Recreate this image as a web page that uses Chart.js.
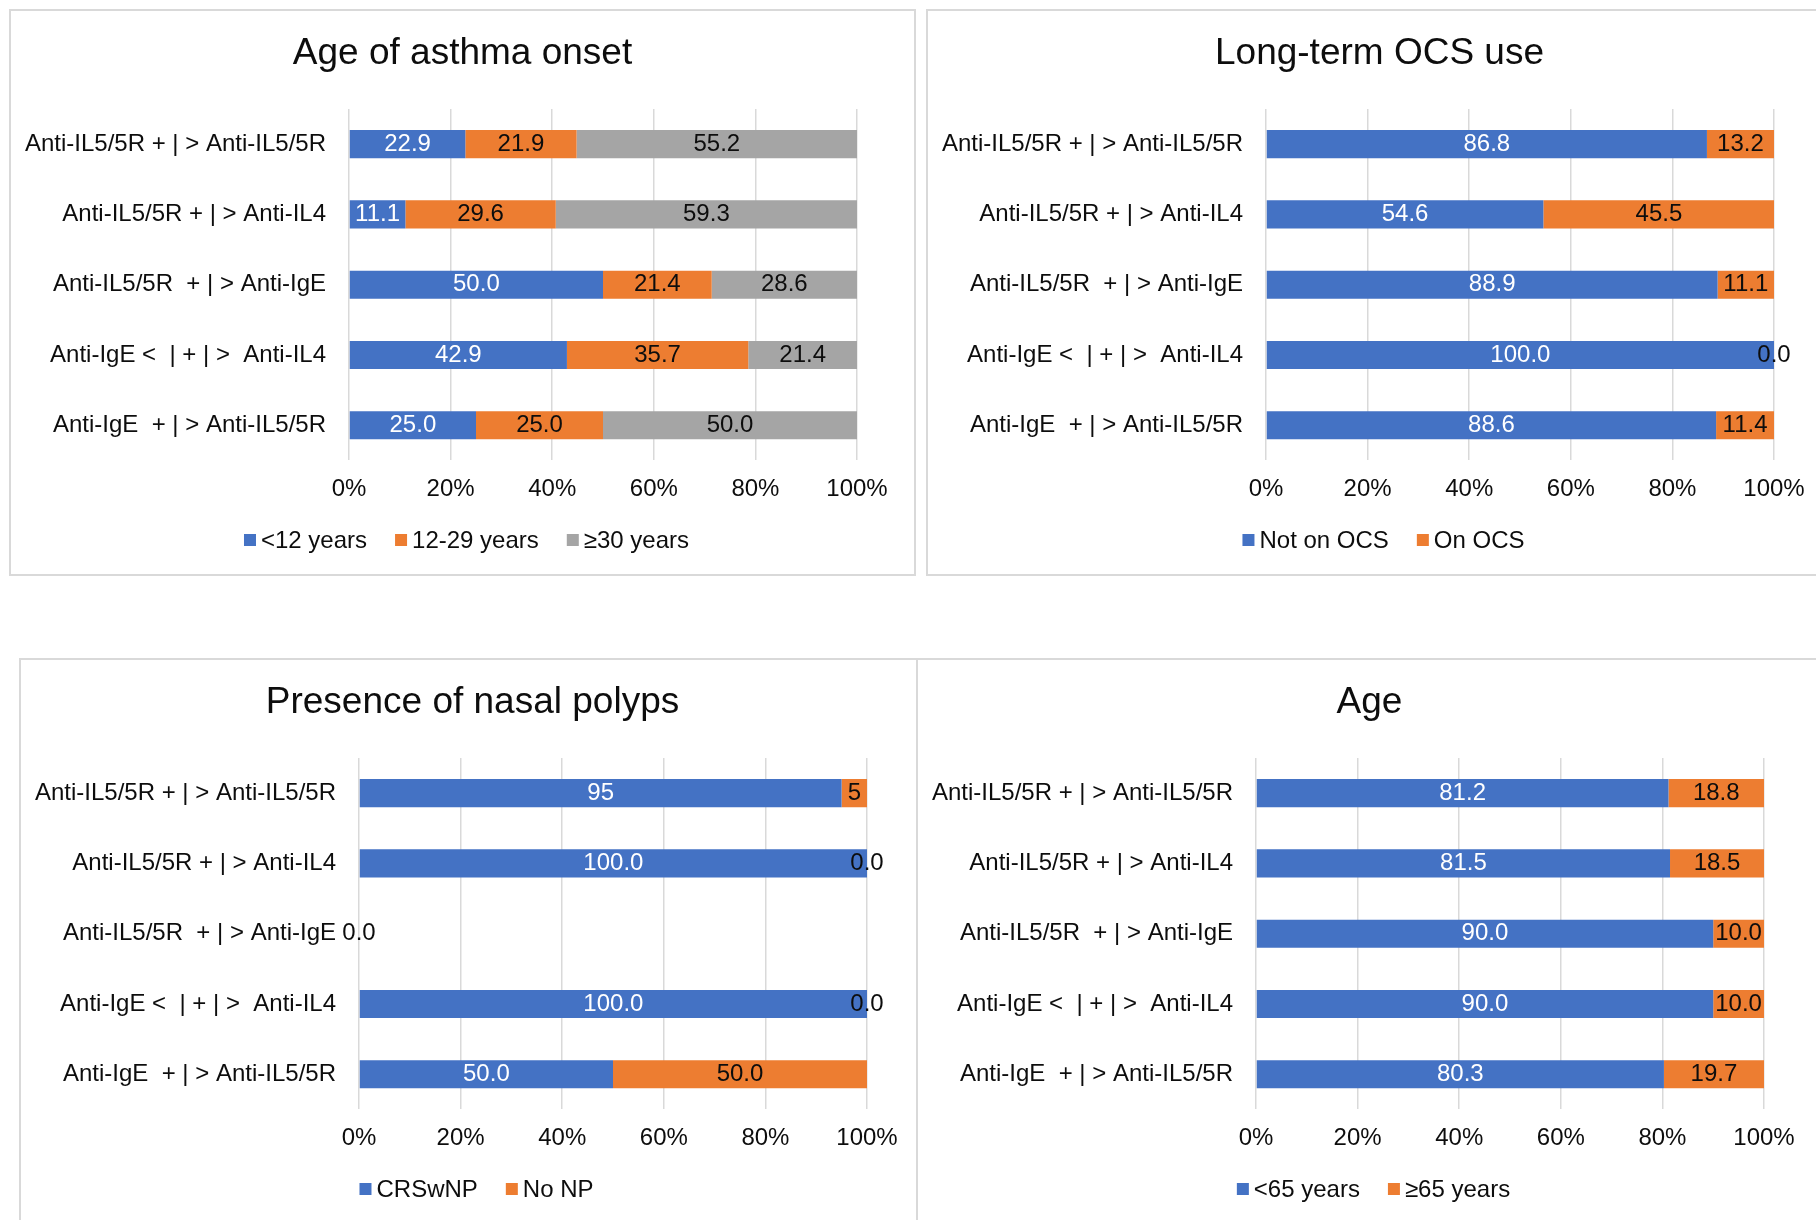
<!DOCTYPE html>
<html>
<head>
<meta charset="utf-8">
<title>Biologic switching patterns</title>
<script src="https://cdn.jsdelivr.net/npm/chart.js@4.4.0/dist/chart.umd.min.js"></script>
<style>
  html, body { margin: 0; padding: 0; background: #fff; overflow: hidden; width: 1816px; height: 1220px; }
  .panel { position: absolute; box-sizing: border-box; border: 2px solid #d9d9d9; background: #fff; width: 907px; height: 567px; }
  .panel canvas { position: absolute; left: 0; top: 0; }
</style>
</head>
<body>
<div class="panel" style="left:9px; top:9px;"><canvas id="onset" width="903" height="563"></canvas></div>
<div class="panel" style="left:926px; top:9px;"><canvas id="ocs" width="903" height="563"></canvas></div>
<div class="panel" style="left:19px; top:658px;"><canvas id="polyps" width="903" height="563"></canvas></div>
<div class="panel" style="left:916px; top:658px;"><canvas id="age" width="903" height="563"></canvas></div>

<script>
// Switch groups (same order in every panel, top to bottom)
const switchGroups = [
  'Anti-IL5/5R + | > Anti-IL5/5R',
  'Anti-IL5/5R + | > Anti-IL4',
  'Anti-IL5/5R  + | > Anti-IgE',
  'Anti-IgE <  | + | >  Anti-IL4',
  'Anti-IgE  + | > Anti-IL5/5R'
];

// Percent axis ticks
const percentTicks = [0, 20, 40, 60, 80, 100];

// Age of asthma onset (%)
const onsetUnder12 = [22.9, 11.1, 50.0, 42.9, 25.0];
const onset12to29  = [21.9, 29.6, 21.4, 35.7, 25.0];
const onset30plus  = [55.2, 59.3, 28.6, 21.4, 50.0];

// Long-term OCS use (%)
const notOnOcs = [86.8, 54.6, 88.9, 100.0, 88.6];
const onOcs    = [13.2, 45.5, 11.1, 0.0, 11.4];

// Presence of nasal polyps (%)
const withNP   = [95, 100.0, 0.0, 100.0, 50.0];
const noNP     = [5, 0.0, 0.0, 0.0, 50.0];
const npDigits = [0, 1, 1, 1, 1];

// Age (%)
const ageUnder65 = [81.2, 81.5, 90.0, 90.0, 80.3];
const age65plus  = [18.8, 18.5, 10.0, 10.0, 19.7];

const BLUE = '#4472C4', ORANGE = '#ED7D31', GRAY = '#A5A5A5';
const TEXT = '#0d0d0d', GRID = '#d9d9d9';
const FAMILY = '"Liberation Sans", Arial, Helvetica, sans-serif';

Chart.defaults.font.family = FAMILY;
Chart.defaults.color = TEXT;

// Value text centred inside each stacked segment
const barValueLabels = {
  id: 'barValueLabels',
  afterDatasetsDraw(chart) {
    const ctx = chart.ctx;
    ctx.save();
    ctx.font = '24px ' + FAMILY;
    ctx.textAlign = 'center';
    ctx.textBaseline = 'middle';
    chart.data.datasets.forEach((ds, i) => {
      const meta = chart.getDatasetMeta(i);
      meta.data.forEach((bar, j) => {
        const digits = ds.digits ? ds.digits[j] : 1;
        ctx.fillStyle = ds.valueColor;
        ctx.fillText(Number(ds.data[j]).toFixed(digits), (bar.x + bar.base) / 2, bar.y);
      });
    });
    ctx.restore();
  }
};

// Compact legend row under the axis
const bottomLegend = {
  id: 'bottomLegend',
  afterDraw(chart, args, opts) {
    const ctx = chart.ctx;
    ctx.save();
    ctx.font = '24px ' + FAMILY;
    ctx.textAlign = 'left';
    ctx.textBaseline = 'middle';
    const box = 12, gapText = 5, gapItem = 28;
    const items = chart.data.datasets.map(d => ({
      text: d.label, color: d.backgroundColor, w: ctx.measureText(d.label).width
    }));
    const total = items.reduce((s, it) => s + box + gapText + it.w, 0) + gapItem * (items.length - 1);
    let x = (chart.width - total) / 2 + (opts.shift || 0);
    const y = opts.y;
    items.forEach(it => {
      ctx.fillStyle = it.color;
      ctx.fillRect(x, y - box / 2, box, box);
      x += box + gapText;
      ctx.fillStyle = TEXT;
      ctx.fillText(it.text, x, y + 1);
      x += it.w + gapItem;
    });
    ctx.restore();
  }
};

function stackedPercentChart(id, title, series) {
  return new Chart(document.getElementById(id), {
    type: 'bar',
    data: {
      labels: switchGroups,
      datasets: series.map(s => ({
        label: s.label,
        data: s.data,
        digits: s.digits,
        backgroundColor: s.color,
        valueColor: s.valueColor,
        borderWidth: 0,
        categoryPercentage: 1,
        barPercentage: 0.4
      }))
    },
    options: {
      indexAxis: 'y',
      responsive: false,
      animation: false,
      devicePixelRatio: 1,
      layout: { padding: { left: 0, right: 0, top: 0, bottom: 55.6 } },
      scales: {
        x: {
          stacked: true,
          min: percentTicks[0],
          max: percentTicks[percentTicks.length - 1],
          afterBuildTicks(scale) { scale.ticks = percentTicks.map(v => ({ value: v })); },
          ticks: {
            callback: v => v + '%',
            padding: 14.6,
            font: { size: 24 },
            color: TEXT,
            maxRotation: 0,
            autoSkip: false
          },
          grid: { color: GRID, lineWidth: 1.5, drawTicks: false },
          border: { display: false }
        },
        y: {
          stacked: true,
          ticks: { padding: 23, font: { size: 24 }, color: TEXT, autoSkip: false },
          grid: { display: false, drawTicks: false },
          border: { display: false },
          afterFit(scale) { scale.width = 338; }
        },
        // empty right-hand margin column so the plot sits left of centre
        yMargin: {
          type: 'category',
          axis: 'y',
          position: 'right',
          ticks: { display: false },
          grid: { display: false, drawTicks: false },
          border: { display: false },
          afterFit(scale) { scale.width = 57; }
        }
      },
      plugins: {
        legend: { display: false },
        tooltip: { enabled: false },
        title: {
          display: true,
          text: title,
          color: TEXT,
          font: { size: 37, weight: 'normal' },
          padding: { top: 21, bottom: 32.6 }
        },
        bottomLegend: { y: 529, shift: 4 }
      }
    },
    plugins: [barValueLabels, bottomLegend]
  });
}

stackedPercentChart('onset', 'Age of asthma onset', [
  { label: '<12 years',   data: onsetUnder12, color: BLUE,   valueColor: '#ffffff' },
  { label: '12-29 years', data: onset12to29,  color: ORANGE, valueColor: TEXT },
  { label: '\u226530 years', data: onset30plus, color: GRAY, valueColor: TEXT }
]);

stackedPercentChart('ocs', 'Long-term OCS use', [
  { label: 'Not on OCS', data: notOnOcs, color: BLUE,   valueColor: '#ffffff' },
  { label: 'On OCS',     data: onOcs,    color: ORANGE, valueColor: TEXT }
]);

stackedPercentChart('polyps', 'Presence of nasal polyps', [
  { label: 'CRSwNP', data: withNP, digits: npDigits, color: BLUE,   valueColor: '#ffffff' },
  { label: 'No NP',  data: noNP,   digits: npDigits, color: ORANGE, valueColor: TEXT }
]);

stackedPercentChart('age', 'Age', [
  { label: '<65 years',       data: ageUnder65, color: BLUE,   valueColor: '#ffffff' },
  { label: '\u226565 years',  data: age65plus,  color: ORANGE, valueColor: TEXT }
]);
</script>
</body>
</html>
